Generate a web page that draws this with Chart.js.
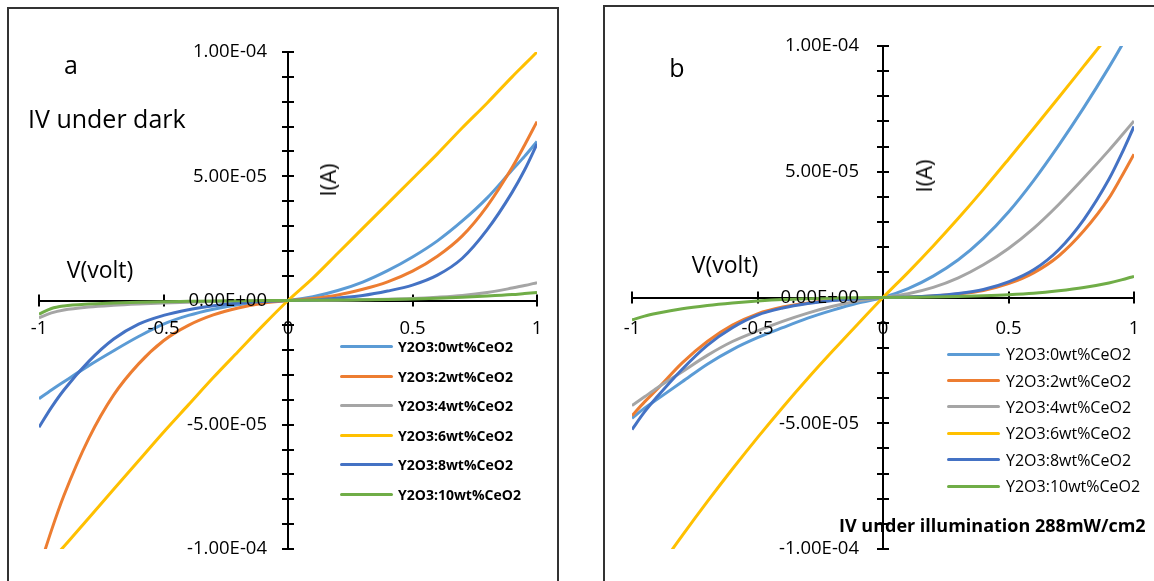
<!DOCTYPE html>
<html>
<head>
<meta charset="utf-8">
<script src="https://cdn.jsdelivr.net/npm/chart.js@4.4.1/dist/chart.umd.min.js"></script>
<style>
  body { margin:0; width:1154px; height:581px; overflow:hidden; background:#fff; position:relative;
         font-family:'Open Sans', sans-serif; color:#000; }
  .box { position:absolute; border:2px solid #333; box-sizing:border-box; }
  canvas { position:absolute; top:0; }
  .t { position:absolute; white-space:nowrap; line-height:1; }
  .c { transform:translate(-50%,-50%); }
  .rot { transform:translate(-50%,-50%) rotate(-90deg); }
  .legend { position:absolute; }
  .legend div { display:flex; align-items:center; white-space:nowrap; }
  .legend i { display:inline-block; height:3px; border-radius:1.5px; }
</style>
</head>
<body>
<div class="box" style="left:7px;top:7px;width:552px;height:600px"></div>
<div class="box" style="left:603px;top:5px;width:600px;height:600px"></div>

<canvas id="chartDark" width="575" height="581" style="left:0"></canvas>
<canvas id="chartLight" width="564" height="581" style="left:590px"></canvas>

<!-- textos do painel a -->
<div class="t c" style="left:71px;top:64px;font-size:25px">a</div>
<div class="t" style="left:28px;top:106px;font-size:25px">IV under dark</div>
<div class="t c" style="left:100px;top:269px;font-size:23px">V(volt)</div>
<div class="t rot" style="left:327px;top:180px;font-size:22px">I(A)</div>
<div class="legend" id="legDark" style="left:340px;top:332px;font-size:14px;font-weight:bold"></div>

<!-- textos do painel b -->
<div class="t c" style="left:677px;top:67px;font-size:25px">b</div>
<div class="t c" style="left:725px;top:264px;font-size:23px">V(volt)</div>
<div class="t rot" style="left:923px;top:176px;font-size:22px">I(A)</div>
<div class="t" style="left:839px;top:516px;font-size:18px;font-weight:bold">IV under illumination 288mW/cm2</div>
<div class="legend" id="legLight" style="left:947px;top:341px;font-size:16px"></div>

<script>
// Tensão (V) comum às curvas
const V = [-1, -0.95, -0.9, -0.8, -0.7, -0.6, -0.5, -0.4, -0.3, -0.2, -0.1, 0,
           0.1, 0.2, 0.3, 0.4, 0.5, 0.6, 0.7, 0.8, 0.9, 0.95, 1];
const UNIT = 1e-5; // correntes lidas em unidades de 1E-05 A

const names  = ['Y2O3:0wt%CeO2','Y2O3:2wt%CeO2','Y2O3:4wt%CeO2','Y2O3:6wt%CeO2','Y2O3:8wt%CeO2','Y2O3:10wt%CeO2'];
const colors = ['#5B9BD5','#ED7D31','#A5A5A5','#FFC000','#4472C4','#70AD47'];

// ----- IV no escuro
const dark0  = [-3.95,-3.6,-3.27,-2.62,-2.02,-1.45,-0.95,-0.6,-0.35,-0.17,-0.06,0,0.15,0.4,0.74,1.2,1.75,2.4,3.2,4.13,5.25,5.8,6.4];
const dark2  = [-10.8,-9.25,-7.85,-5.55,-3.8,-2.55,-1.62,-1.0,-0.58,-0.3,-0.11,0,0.08,0.22,0.45,0.75,1.18,1.78,2.6,3.8,5.35,6.25,7.2];
const dark4  = [-0.7,-0.5,-0.38,-0.26,-0.19,-0.14,-0.1,-0.07,-0.045,-0.025,-0.01,0,0.005,0.015,0.03,0.05,0.08,0.13,0.2,0.32,0.5,0.6,0.72];
const dark6  = [-11.0,-10.45,-9.9,-8.75,-7.6,-6.45,-5.3,-4.2,-3.1,-2.05,-1.0,0,0.9,1.9,2.9,3.9,4.9,5.9,6.95,7.95,9.0,9.5,10.0];
const dark8  = [-5.1,-4.3,-3.6,-2.45,-1.55,-0.95,-0.6,-0.37,-0.21,-0.1,-0.04,0,0.02,0.1,0.2,0.38,0.62,1.02,1.7,2.85,4.35,5.25,6.3];
const dark10 = [-0.55,-0.32,-0.22,-0.14,-0.1,-0.07,-0.05,-0.035,-0.02,-0.01,-0.005,0,0.01,0.02,0.03,0.04,0.06,0.09,0.13,0.18,0.24,0.28,0.32];

// ----- IV sob iluminação 288 mW/cm2
const ill0  = [-4.8,-4.4,-4.05,-3.35,-2.65,-2.07,-1.6,-1.2,-0.82,-0.5,-0.22,0,0.35,0.85,1.5,2.35,3.4,4.65,6.05,7.55,9.15,10.0,10.9];
const ill2  = [-4.7,-4.15,-3.65,-2.6,-1.75,-1.1,-0.65,-0.38,-0.22,-0.11,-0.04,0,0.02,0.06,0.14,0.28,0.55,0.98,1.65,2.65,3.95,4.8,5.7];
const ill4  = [-4.3,-3.95,-3.6,-2.95,-2.3,-1.75,-1.33,-0.95,-0.62,-0.35,-0.14,0,0.15,0.4,0.78,1.3,1.95,2.75,3.7,4.75,5.85,6.43,7.02];
const ill6  = [-12.35,-11.6,-10.87,-9.47,-8.12,-6.82,-5.57,-4.37,-3.22,-2.12,-1.05,0,1.0,2.05,3.15,4.3,5.5,6.72,7.95,9.2,10.45,11.1,11.7];
const ill8  = [-5.25,-4.55,-3.95,-2.85,-1.9,-1.2,-0.7,-0.42,-0.24,-0.12,-0.05,0,0.02,0.07,0.16,0.32,0.62,1.1,1.9,3.1,4.7,5.7,6.8];
const ill10 = [-0.89,-0.74,-0.63,-0.45,-0.32,-0.22,-0.14,-0.08,-0.05,-0.02,-0.01,0,0.01,0.02,0.04,0.07,0.11,0.17,0.27,0.4,0.58,0.7,0.84];

const xTicks = [-1, -0.5, 0, 0.5, 1];

// Helpers
const sci = v => {
  const r = Math.round(v / UNIT) * UNIT;
  const [m, e] = r.toExponential(2).split('e');
  const n = Number(e);
  return m + 'E' + (n < 0 ? '-' : '+') + String(Math.abs(n)).padStart(2, '0');
};
const isMajor = v => Math.round(v / UNIT) % 5 === 0;

Chart.defaults.font.family = "'Open Sans', sans-serif";
Chart.defaults.font.size = 18.5;
Chart.defaults.color = '#000';

// marcas cruzando os eixos (sob as curvas) + rótulos junto aos eixos centrais (sobre as curvas)
const axisDecor = {
  id: 'axisDecor',
  beforeDatasetsDraw(chart) {
    const { ctx, scales: { x, y } } = chart;
    const x0 = x.getPixelForValue(0), y0 = y.getPixelForValue(0);
    ctx.save();
    ctx.strokeStyle = '#000';
    ctx.lineWidth = 2;
    ctx.beginPath();
    x.ticks.forEach(t => {
      const px = Math.round(x.getPixelForValue(t.value));
      ctx.moveTo(px, y0 - 6); ctx.lineTo(px, y0 + 6);
    });
    y.ticks.forEach(t => {
      const py = Math.round(y.getPixelForValue(t.value));
      ctx.moveTo(x0 - 6, py); ctx.lineTo(x0 + 6, py);
    });
    ctx.stroke();
    ctx.restore();
  },
  afterDatasetsDraw(chart, args, opts) {
    const { ctx, scales: { x, y } } = chart;
    const x0 = x.getPixelForValue(0), y0 = y.getPixelForValue(0);
    ctx.save();
    ctx.fillStyle = '#000';
    ctx.font = "18.5px 'Open Sans'";
    ctx.textBaseline = 'middle';
    ctx.textAlign = 'center';
    x.ticks.forEach(t => ctx.fillText(String(t.value), x.getPixelForValue(t.value), y0 + opts.xGap));
    ctx.textAlign = 'right';
    y.ticks.filter(t => isMajor(t.value))
      .forEach(t => ctx.fillText(sci(t.value), x0 - opts.yGap, y.getPixelForValue(t.value)));
    ctx.restore();
  }
};

function ivChart(id, series, pad, xGap, yGap) {
  return new Chart(document.getElementById(id), {
    type: 'line',
    data: {
      datasets: series.map((s, i) => ({
        label: names[i],
        data: V.map((v, k) => ({ x: v, y: s[k] * UNIT })),
        borderColor: colors[i], backgroundColor: colors[i],
        borderWidth: 3, pointRadius: 0, cubicInterpolationMode: 'monotone',
        order: series.length - i
      }))
    },
    options: {
      responsive: false, animation: false, events: [],
      layout: { padding: pad },
      plugins: { legend: { display: false }, tooltip: { enabled: false }, axisDecor: { xGap, yGap } },
      scales: {
        x: {
          type: 'linear', min: -1, max: 1, position: { y: 0 },
          grid: { display: false, drawTicks: false },
          border: { color: '#000', width: 2 },
          afterBuildTicks: s => { s.ticks = xTicks.map(v => ({ value: v })); },
          ticks: { display: false }
        },
        y: {
          type: 'linear', min: -1e-4, max: 1e-4, position: { x: 0 },
          grid: { display: false, drawTicks: false },
          border: { color: '#000', width: 2 },
          ticks: { display: false, stepSize: 1e-5, autoSkip: false }
        }
      }
    },
    plugins: [axisDecor]
  });
}

ivChart('chartDark',  [dark0, dark2, dark4, dark6, dark8, dark10],
        { left: 39, right: 38, top: 52, bottom: 32 }, 28.5, 21);
ivChart('chartLight', [ill0, ill2, ill4, ill6, ill8, ill10],
        { left: 42, right: 20, top: 46, bottom: 32 }, 31, 24);

// legendas em HTML a partir das séries
function legend(id, rowH, gap) {
  const el = document.getElementById(id);
  names.forEach((n, i) => {
    const row = document.createElement('div');
    row.style.height = rowH + 'px';
    row.innerHTML = `<i style="width:53px;background:${colors[i]};margin-right:${gap}px"></i><span>${n}</span>`;
    el.appendChild(row);
  });
}
legend('legDark', 29.5, 5);
legend('legLight', 26.4, 6);
</script>
</body>
</html>
